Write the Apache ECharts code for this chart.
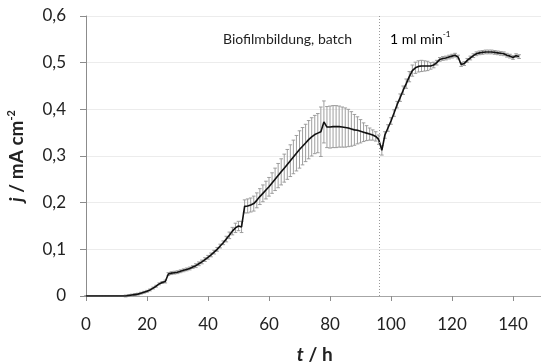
<!DOCTYPE html>
<html><head><meta charset="utf-8">
<script src="https://cdn.jsdelivr.net/npm/echarts@6/dist/echarts.min.js"></script>
<style>html,body{margin:0;padding:0;background:#fff}#c{width:541px;height:363px}</style>
</head><body><div id="c"></div>
<script>
const times = [0,1,2,3,4,5,6,7,8,9,10,11,12,13,14,15,16,17,18,19,20,21,22,23,24,25,26,27,28,29,30,31,32,33,34,35,36,37,38,39,40,41,42,43,44,45,46,47,48,49,50,51,52,53,54,55,56,57,58,59,60,61,62,63,64,65,66,67,68,69,70,71,72,73,74,75,76,77,78,79,80,81,82,83,84,85,86,87,88,89,90,91,92,93,94,95,96,97,98,99,100,101,102,103,104,105,106,107,108,109,110,111,112,113,114,115,116,117,118,119,120,121,122,123,124,125,126,127,128,129,130,131,132,133,134,135,136,137,138,139,140,141,142];
const jMean = [0,0,0,0,0,0,0,0,0,0,0,0,0,
0.000,0.001,0.002,0.003,0.004,0.006,0.008,0.010,0.013,0.017,0.021,0.026,0.029,0.031,0.047,0.049,0.050,0.051,0.053,0.055,0.057,0.059,0.062,
0.065,0.069,0.073,0.078,0.083,0.088,0.094,0.100,0.107,0.114,0.122,0.130,0.139,0.146,0.150,0.148,0.192,0.193,0.195,0.198,
0.205,0.213,0.220,0.227,0.234,0.242,0.250,0.258,0.266,0.274,0.282,0.290,0.298,0.306,0.314,0.321,0.328,0.335,0.341,0.346,
0.349,0.352,0.373,0.362,0.362,0.363,0.363,0.363,0.362,0.361,0.360,0.358,0.356,0.355,0.353,0.351,0.349,0.347,0.345,0.342,
0.335,0.312,0.345,0.360,0.375,0.392,0.410,0.425,0.441,0.455,0.470,0.483,0.489,0.492,0.493,0.493,0.493,0.493,0.495,0.500,
0.507,0.509,0.510,0.512,0.514,0.516,0.512,0.496,0.498,0.505,0.510,0.515,0.519,0.521,0.522,0.523,0.523,0.523,0.522,0.521,
0.520,0.519,0.516,0.514,0.511,0.515,0.513];
const jErr = [0.001,0.001,0.001,0.001,0.001,0.001,0.001,0.001,0.001,0.001,0.001,0.001,0.001,
0.002,0.002,0.002,0.002,0.002,0.002,0.002,0.002,0.002,0.002,0.002,0.002,0.002,
0.003,0.003,0.003,0.003,0.003,0.003,0.003,0.003,0.003,0.003,
0.004,0.004,0.004,0.004,0.004,0.004,0.004,0.004,0.004,0.004,
0.006,0.007,0.008,0.010,0.010,0.012,0.014,0.015,0.015,0.016,0.016,0.017,0.018,0.019,0.020,
0.022,0.024,0.026,0.028,0.030,0.032,0.034,0.036,0.038,0.040,0.040,0.040,0.041,0.041,0.041,0.042,0.053,0.045,0.044,0.045,
0.045,0.045,0.044,0.043,0.042,0.040,0.037,0.033,0.029,0.025,0.020,0.016,0.013,0.011,0.010,0.010,0.010,
0.007,0.007,0.007,0.007,0.007,0.008,0.009,0.010,0.011,0.012,0.012,0.012,0.012,0.011,0.010,0.007,0.006,0.005,
0.004,0.004,0.004,0.004,0.004,0.004,0.004,0.004,0.004,0.004,0.004,0.004,0.004,0.004,0.004,0.004,0.004,0.004,0.004,0.004,0.004,0.004,0.004,0.004,0.004,0.004,0.004];
const phaseChangeT = 96.1;
const phaseLabels = ['Biofilmbildung, batch', '1 ml min', '-1'];
const xTitle = ['t', ' / h'];
const yTitle = ['j', ' / mA cm', '-2'];

const lineData = times.map((t, i) => [t, jMean[i]]);
const errData = times.map((t, i) => [t, jMean[i] - jErr[i], jMean[i] + jErr[i]]);

const FONT = 'Lato';
const chart = echarts.init(document.getElementById('c'), null, {renderer: 'canvas'});
chart.setOption({
  animation: false,
  backgroundColor: '#fff',
  textStyle: {fontFamily: FONT},
  grid: {left: 86, top: 16, bottom: 67, right: -2.5, containLabel: false, outerBoundsMode: 'none'},
  xAxis: [{
    type: 'value', min: 0, max: 150, interval: 20,
    name: '{i|' + xTitle[0] + '}{b|' + xTitle[1] + '}',
    nameLocation: 'middle', nameGap: 49,
    nameTextStyle: {rich: {
      i: {fontFamily: FONT, fontSize: 19, fontWeight: 'bold', fontStyle: 'italic', color: '#222'},
      b: {fontFamily: FONT, fontSize: 19, fontWeight: 'bold', color: '#222'}}},
    axisLine: {show: true, onZero: false, lineStyle: {color: '#8c8c8c', width: 1}},
    axisTick: {show: true, length: 5, lineStyle: {color: '#8c8c8c'}},
    axisLabel: {fontFamily: FONT, fontSize: 17, color: '#222', margin: 20, showMaxLabel: false,
      formatter: v => (v % 20 === 0 ? String(v) : '')},
    splitLine: {show: false}
  }, {
    type: 'value', min: 0, max: 150, position: 'top',
    axisLine: {show: true, lineStyle: {color: '#a6a6a6', width: 1}},
    axisTick: {show: false}, axisLabel: {show: false}, splitLine: {show: false}
  }],
  yAxis: {
    type: 'value', min: 0, max: 0.6, interval: 0.1,
    name: '{i|' + yTitle[0] + '}{b|' + yTitle[1] + '}{s|' + yTitle[2] + '}',
    nameLocation: 'middle', nameGap: 59, nameRotate: 90,
    nameTextStyle: {rich: {
      i: {fontFamily: FONT, fontSize: 19, fontWeight: 'bold', fontStyle: 'italic', color: '#222', lineHeight: 21},
      b: {fontFamily: FONT, fontSize: 19, fontWeight: 'bold', color: '#222', lineHeight: 21},
      s: {fontFamily: FONT, fontSize: 11, fontWeight: 'bold', color: '#222', verticalAlign: 'top', lineHeight: 21}}},
    axisLine: {show: true, lineStyle: {color: '#8c8c8c', width: 1}},
    axisTick: {show: true, length: 6, lineStyle: {color: '#8c8c8c'}},
    axisLabel: {fontFamily: FONT, fontSize: 17, color: '#222', margin: 20,
      formatter: v => (Math.round(v * 10) / 10).toString().replace('.', ',')},
    splitLine: {show: true, lineStyle: {color: '#ececec', width: 1}}
  },
  graphic: [
    {type: 'text', left: 223, top: 32, style: {text: phaseLabels[0], fontFamily: FONT, fontSize: 14, fill: '#222'}},
    {type: 'text', left: 390, top: 30, style: {
      text: '{a|' + phaseLabels[1] + '}{s|' + phaseLabels[2] + '}',
      rich: {a: {fontFamily: FONT, fontSize: 14, color: '#222', lineHeight: 19},
             s: {fontFamily: FONT, fontSize: 8, color: '#222', verticalAlign: 'top', lineHeight: 19}}}}
  ],
  series: [{
    type: 'custom',
    z: 1,
    data: errData,
    renderItem: function (params, api) {
      const x = api.value(0);
      const lo = api.coord([x, api.value(1)]);
      const hi = api.coord([x, api.value(2)]);
      const c = 1.8;
      const st = {stroke: '#949494', lineWidth: 0.9};
      return {type: 'group', children: [
        {type: 'line', shape: {x1: lo[0], y1: lo[1], x2: hi[0], y2: hi[1]}, style: st},
        {type: 'line', shape: {x1: hi[0] - c, y1: hi[1], x2: hi[0] + c, y2: hi[1]}, style: st},
        {type: 'line', shape: {x1: lo[0] - c, y1: lo[1], x2: lo[0] + c, y2: lo[1]}, style: st}
      ]};
    },
    silent: true
  }, {
    type: 'line',
    z: 3,
    data: lineData,
    showSymbol: false,
    lineStyle: {color: '#111', width: 1.6},
    markLine: {
      silent: true, symbol: ['none', 'none'], label: {show: false},
      lineStyle: {color: '#9a9a9a', type: [1, 2], width: 1},
      data: [[{coord: [phaseChangeT, 0]}, {coord: [phaseChangeT, 0.6]}]]
    }
  }]
});
</script></body></html>
